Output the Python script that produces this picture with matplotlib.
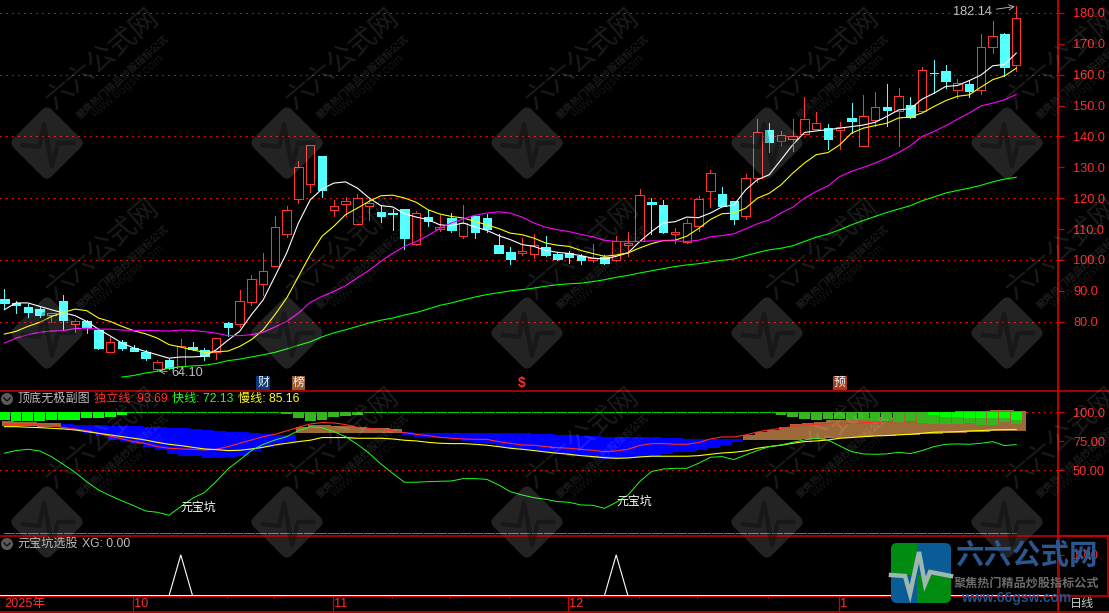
import numpy as np
import matplotlib
matplotlib.use("Agg")
import matplotlib.pyplot as plt
from matplotlib.patches import Rectangle, FancyBboxPatch, Circle
from matplotlib.transforms import Affine2D

plt.rcParams['font.family'] = ['Liberation Sans', 'Noto Sans CJK SC', 'DejaVu Sans']

# ---------------- price pane data ----------------
opens = [87.5,86.0,84.7,84.2,82.1,86.8,79.2,80.2,77.4,70.1,73.5,71.6,70.3,64.7,67.7,65.6,71.8,70.9,70.3,79.7,79.2,86.3,92.2,97.9,108.3,119.8,124.6,133.8,116.3,118.0,111.6,117.6,
         115.7,115.2,116.6,105.1,113.9,110.0,113.7,107.7,114.4,113.7,105.0,102.7,102.2,101.8,104.3,101.9,102.3,101.4,99.9,101.0,100.0,105.0,106.0,118.9,117.9,108.5,105.7,110.9,122.4,121.5,119.2,
         114.1,126.4,142.2,138.4,139.1,140.9,142.5,142.8,142.1,146.0,136.8,145.4,149.6,148.3,150.3,148.2,160.6,161.3,155.2,157.1,155.0,168.9,173.3,163.1]
closes = [86.2,85.3,83.3,82.3,82.8,80.7,80.2,78.4,71.6,73.5,71.6,70.6,68.4,67.0,64.9,72.0,71.3,68.9,74.7,78.4,86.7,93.8,96.4,110.7,116.2,130.1,137.3,122.8,117.5,119.1,120.1,118.3,
          114.4,115.0,107.0,115.2,112.6,110.7,109.6,112.0,109.0,110.0,102.4,100.4,102.9,104.9,101.7,100.4,101.1,99.9,100.8,98.9,106.0,105.5,121.1,118.0,109.2,109.2,112.0,119.8,128.2,117.6,113.4,
          126.5,141.4,138.3,140.4,140.1,145.6,144.3,139.3,143.0,145.1,146.6,149.5,148.6,153.1,146.4,161.5,160.4,158.0,157.3,154.8,168.9,172.5,162.6,178.3]
highs = [90.7,86.6,85.9,85.1,82.9,88.8,81.0,80.7,77.6,75.2,74.0,72.4,70.9,67.5,68.1,74.4,73.5,71.6,74.7,79.9,90.4,95.2,102.4,114.4,117.6,131.9,137.3,133.8,119.5,120.4,121.4,120.1,
         117.6,116.6,116.6,115.9,116.3,114.7,115.2,117.9,114.4,115.0,108.5,104.3,107.2,108.5,107.9,102.7,102.9,101.9,105.3,101.6,107.9,109.2,123.0,120.2,119.5,110.5,113.3,120.8,129.3,123.8,119.2,
         127.9,145.7,144.4,141.8,145.7,152.8,148.0,144.1,144.7,150.9,153.5,154.5,157.1,155.8,152.8,162.6,164.8,163.2,158.7,158.4,173.3,177.5,173.6,182.14]
lows = [84.2,82.9,81.6,81.6,79.8,77.8,76.6,76.5,71.3,70.1,70.9,70.4,67.7,64.1,64.7,65.3,70.9,67.7,68.0,75.5,78.4,85.3,88.8,97.9,107.5,118.4,122.1,120.5,114.4,114.4,111.6,113.1,
        112.4,109.8,103.7,104.9,111.1,109.4,109.0,107.0,107.2,109.0,102.4,98.8,101.6,100.8,101.4,100.1,99.1,98.8,99.5,98.6,99.8,101.4,106.0,108.5,108.9,105.6,105.6,109.3,117.3,117.6,111.8,
        113.4,125.2,135.0,137.1,135.4,140.9,142.5,136.0,136.0,141.2,136.8,143.5,143.5,137.0,146.0,148.2,154.1,155.8,152.5,152.8,153.8,167.1,159.5,161.3]
ma_white = [83.9,86.1,86.1,85.0,83.9,82.9,82.0,80.1,77.6,75.4,73.1,71.5,70.4,69.3,68.2,68.6,68.6,68.8,70.9,74.0,76.9,82.3,87.1,94.7,102.3,112.0,119.5,123.0,124.9,125.3,123.3,120.1,
            117.6,117.2,115.0,113.9,113.1,111.4,111.1,112.0,110.7,109.6,107.9,106.6,105.0,104.4,103.1,102.5,102.1,101.4,100.6,100.3,101.2,102.3,106.0,109.2,112.0,112.4,113.9,113.7,115.2,117.2,117.8,
            122.7,126.0,127.6,132.4,137.3,141.3,141.8,142.2,142.7,143.2,143.7,144.6,146.5,148.6,149.0,152.1,154.0,156.2,156.5,158.1,159.9,162.9,163.3,167.0]
ma_yellow = [76.0,76.9,78.5,79.8,81.7,83.0,84.1,83.6,81.2,80.1,78.5,77.1,76.1,74.7,72.6,71.8,70.9,70.1,70.3,70.5,72.0,74.2,77.4,82.3,87.7,94.7,101.7,107.7,110.9,114.7,116.8,119.0,
             120.8,121.0,120.1,118.7,116.3,114.9,114.1,113.6,112.5,111.4,110.2,108.7,108.2,107.1,105.5,104.8,104.4,103.1,102.1,101.2,101.6,102.3,103.9,105.3,106.3,106.4,107.7,110.2,113.1,115.0,115.2,
             116.8,120.0,121.6,124.3,128.1,131.4,134.1,134.8,137.3,141.1,142.7,143.5,144.3,146.0,146.3,147.6,149.7,151.6,153.0,153.5,156.0,158.4,159.6,162.1]
ma_magenta = [73.1,74.7,75.8,76.6,77.0,77.1,77.8,77.9,77.6,77.6,77.3,77.2,77.2,77.1,77.0,77.3,77.2,76.8,76.3,75.5,75.5,75.8,76.6,78.3,80.1,82.8,86.3,88.2,89.8,91.7,94.2,96.7,
              99.6,102.1,104.4,106.0,107.9,110.2,112.0,113.3,114.5,115.2,115.6,115.2,113.9,112.0,110.6,109.8,109.2,108.3,107.5,106.4,106.0,106.0,106.0,106.2,106.2,106.2,106.0,106.4,107.5,107.9,108.5,
              110.1,111.7,113.0,115.2,117.1,120.0,122.2,124.0,127.0,128.7,130.0,131.4,133.0,134.8,137.0,140.0,141.6,143.5,145.6,147.6,149.9,150.8,151.9,153.6]
ma_green_start = 10
ma_green = [62.1,62.6,63.4,64.0,65.0,65.4,65.7,65.9,66.5,67.4,67.9,68.6,69.3,70.1,71.2,72.4,73.5,75.1,76.4,77.4,78.5,79.6,
            80.5,81.2,82.2,83.0,84.1,85.3,86.1,87.1,88.0,88.8,89.4,90.0,90.4,90.9,91.5,92.0,92.3,92.5,93.0,93.6,94.4,95.0,95.8,96.5,97.2,97.9,98.4,98.8,99.4,99.9,100.3,
            101.4,102.4,103.3,103.8,104.6,106.0,107.4,108.4,109.8,111.4,112.8,114.1,115.4,116.5,117.6,119.2,120.4,121.7,122.5,123.3,124.2,125.3,126.2,126.8]
price_ticks = [180,170,160,150,140,130,120,110,100,90,80]
price_grid = [180,160,140,120,100,80]

# ---------------- indicator pane data ----------------
band_top = [92.5,92.0,91.4,91.1,90.5,89.7,89.1,89.1,89.1,88.5,88.2,87.9,87.6,87.1,86.8,86.5,85.6,85.1,84.2,83.3,82.8,81.9,81.0,80.5,80.5,87.6,89.1,89.1,88.5,88.5,87.6,86.8,
            86.8,85.9,82.8,82.5,82.5,82.5,82.5,82.5,82.5,82.5,82.5,82.5,81.9,81.3,81.3,80.5,80.5,79.9,79.9,79.0,79.0,79.0,79.0,78.4,78.2,77.6,77.0,76.7,76.7,76.7,76.7,
            80.5,83.3,84.8,87.6,89.7,91.1,92.0,93.1,93.4,94.8,94.8,95.7,96.3,99.1,99.1,100.0,100.6,100.6,100.9,101.1,101.4,101.7,101.7,101.1]
band_bottom = [88.5,88.5,87.9,87.6,87.1,85.6,83.9,81.9,79.9,76.1,74.1,72.4,70.4,67.5,63.8,62.6,62.6,60.3,60.3,61.5,62.1,66.7,70.4,72.4,74.1,81.9,82.5,82.5,82.5,82.5,82.5,82.5,
               82.5,82.5,80.5,79.0,78.2,77.6,76.7,75.3,73.3,72.4,70.4,68.9,68.4,66.9,66.1,64.6,62.6,62.1,60.9,59.8,60.3,60.9,61.8,62.6,63.8,65.5,66.1,67.5,68.9,71.8,74.1,
               76.1,76.1,76.1,76.1,76.1,76.7,77.3,77.6,78.2,78.7,79.0,79.6,79.6,80.2,80.7,81.3,81.6,82.2,82.5,82.8,83.3,83.6,83.9,84.2]
brown_spans = [(0, 4), (25, 33), (63, 86)]
line_red = [89.1,89.4,89.4,89.1,88.5,86.8,85.6,84.2,81.9,79.6,77.0,74.7,73.0,70.4,69.0,68.4,68.1,67.5,68.1,70.4,73.3,76.1,79.0,81.0,83.9,87.1,89.9,91.1,90.8,89.4,87.1,86.2,
            85.3,83.9,82.5,81.0,79.9,78.4,77.6,77.0,76.7,76.7,74.7,73.3,71.8,71.6,70.4,69.5,69.0,68.1,67.2,66.1,66.7,68.1,71.3,73.0,73.0,72.4,72.4,73.9,77.0,78.7,78.7,
            80.5,83.0,84.8,86.2,87.6,89.1,89.7,90.2,89.9,90.5,90.8,91.4,92.0,92.8,92.5,92.5,92.5,92.8,92.8,93.1,93.4,93.4,93.7,93.69]
line_yellow = [87.6,87.6,87.1,86.8,86.2,85.6,84.8,83.3,81.9,80.5,79.0,77.6,76.1,74.1,72.4,71.3,69.8,68.4,67.8,67.0,67.2,68.4,69.8,71.8,73.3,74.7,75.9,78.2,78.2,78.2,77.6,77.6,
               77.6,77.0,75.9,75.3,74.1,73.3,73.0,73.0,72.4,71.6,70.4,69.0,68.1,67.0,65.8,64.7,63.8,62.6,61.8,60.9,60.3,60.6,61.5,62.1,62.1,62.1,62.1,62.6,63.8,64.9,65.5,
               66.7,69.0,70.4,71.6,73.3,74.7,75.3,76.1,77.6,78.2,79.0,79.6,79.9,80.5,81.0,81.9,82.8,83.0,83.3,83.9,84.2,84.8,85.06,85.16]
line_green = [64.7,67.0,68.1,66.7,61.8,55.2,48.3,40.2,33.0,28.1,23.6,19.5,14.9,13.8,11.2,18.7,25.9,30.8,40.2,51.1,58.9,67.0,72.4,76.1,79.0,84.2,87.4,86.8,83.3,79.0,72.4,64.7,
              55.5,47.4,39.7,39.7,40.2,40.5,40.8,42.8,42.8,42.2,37.4,31.6,28.7,26.4,25.0,23.0,22.4,20.1,19.8,17.2,22.4,28.7,40.2,48.9,51.1,51.7,51.7,56.0,61.2,61.8,59.2,
              63.2,67.0,70.4,71.8,74.1,76.1,77.6,76.1,71.0,66.1,64.1,63.8,64.1,65.5,64.4,67.0,70.4,72.4,72.7,72.4,73.3,74.7,71.3,72.13]
bright_a_start = 0
bright_a = [93.4,92.5,92.5,92.5,93.4,93.4,93.4,94.8,95.4,96.0,97.7]
dark_a_start = 24
dark_a = [98.6,94.8,92.5,93.4,96.0,96.8,97.7,99.1]
dark_b_start = 66
dark_b = [97.7,96.0,94.3,93.4,94.3,94.3,93.7,93.4,92.5,92.5,91.4,92.5,90.8,89.7,89.7,89.7,91.1,89.1,89.1,91.4,89.7]
bright_b_start = 79
bright_b = [97.7,96.3,96.3,94.8,94.8,94.8,94.8,93.4]
sub_ticks = [100, 75, 50]
sub_tick_labels = ['100.0', '75.00', '50.00']
sub_base = -4.3
pit_labels = [(15, 17.5), (52, 22.9)]

# ---------------- signal pane / dates ----------------
xg_idx = [15, 52]
month_idx = [11, 28, 48, 71]
month_labels = ['10', '11', '12', '1']
minor_idx = [15, 19, 23, 33, 38, 43, 54, 59, 65]
tag_idx = [22, 25, 44, 71]
tag_text = ['财', '榜', '$', '预']
tag_bg = ['#0c3a78', '#9a5a30', None, '#a83a20']

W, H = 1109, 613
BG = '#000000'
RED_AX = '#d00000'
GRID = '#e00000'
LABEL = '#ff2e2e'
RED = '#ff3232'
CYAN = '#54ffff'
n = len(opens)
x = np.arange(n)
PX0, PX_STEP = 4.3, 11.767
AXIS_R = 1058
xlim = ((0 - PX0) / PX_STEP, (AXIS_R - PX0) / PX_STEP)
DOT = (0, (1.1, 4.4))
LW = 0.6
CURVE = 0.8

fig = plt.figure(figsize=(W / 100, H / 100), dpi=100, facecolor=BG)


def pane(y0, y1, x0=0, x1=AXIS_R, z=1):
    return fig.add_axes([x0 / W, 1 - y1 / H, (x1 - x0) / W, (y1 - y0) / H], facecolor=BG, zorder=z)


def style(ax):
    ax.set_xlim(*xlim)
    ax.set_xticks([])
    for s in ['left', 'top', 'bottom']:
        ax.spines[s].set_visible(False)
    ax.spines['right'].set_color(RED_AX)
    ax.spines['right'].set_linewidth(1.3)
    ax.yaxis.tick_right()
    ax.tick_params(axis='y', colors=LABEL, color=RED_AX, length=4.3, width=0.9, pad=6.5, labelsize=9.2)


def grid(ax, level):
    ax.axhline(level, color=GRID, ls=DOT, lw=0.7, zorder=1, antialiased=False)


# ---- price pane ----
ax = pane(0, 390)
style(ax)
ax.set_ylim(57.9, 184.2)
ax.set_yticks(price_ticks)
ax.set_yticklabels([f'{v:.1f}' for v in price_ticks])
for lv in price_grid:
    grid(ax, lv)
for i in range(n):
    o, c, h, l = opens[i], closes[i], highs[i], lows[i]
    top, bot = max(o, c), min(o, c)
    up = c >= o
    col = RED if up else CYAN
    ax.plot([i, i], [top, h], color=col, lw=LW, zorder=2, solid_capstyle='butt', antialiased=False)
    ax.plot([i, i], [l, bot], color=col, lw=LW, zorder=2, solid_capstyle='butt', antialiased=False)
    ax.add_patch(Rectangle((i - 0.36, bot), 0.72, max(top - bot, 0.3),
                           facecolor=BG if up else CYAN, edgecolor=col, lw=LW, zorder=2, antialiased=False))
ax.plot(x, ma_white, color='#ffffff', lw=CURVE, zorder=3)
ax.plot(x, ma_yellow, color='#ffff00', lw=CURVE, zorder=3)
ax.plot(x, ma_magenta, color='#ff00ff', lw=CURVE, zorder=3)
ax.plot(x[ma_green_start:], ma_green, color='#00ff00', lw=CURVE, zorder=3)
ax.annotate(f'{max(highs):.2f}', xy=(int(np.argmax(highs)), max(highs)), xycoords='data',
            xytext=(-24, -6), textcoords='offset pixels', ha='right', va='center',
            color='#c0c0c0', fontsize=9.2,
            arrowprops=dict(arrowstyle='->', color='#c0c0c0', lw=0.6, shrinkA=1, shrinkB=1), zorder=6)
ax.annotate(f'{min(lows):.2f}', xy=(int(np.argmin(lows)), min(lows)), xycoords='data',
            xytext=(14, -2), textcoords='offset pixels', ha='left', va='center',
            color='#c0c0c0', fontsize=9.2,
            arrowprops=dict(arrowstyle='->', color='#c0c0c0', lw=0.6, shrinkA=1, shrinkB=1), zorder=6)
for i, t, bg in zip(tag_idx, tag_text, tag_bg):
    if bg:
        ax.text(i, 60.3, t, color='#f0f0f0', fontsize=8.6, ha='center', va='center', zorder=6,
                bbox=dict(boxstyle='square,pad=0.08', fc=bg, ec='none'))
    else:
        ax.text(i, 60.3, t, color='#ff2e2e', fontsize=10, fontweight='bold', ha='center', va='center', zorder=6)

# ---- indicator pane ----
ax2 = pane(390, 535)
style(ax2)
ax2.set_ylim(-5.8, 119.2)
ax2.set_yticks(sub_ticks)
ax2.set_yticklabels(sub_tick_labels)
grid(ax2, 50)
grid(ax2, 100)
ax2.plot(x, [100] * n, color='#00d000', lw=LW, ls=(0, (13, 1.5)), zorder=2, antialiased=False)
ax2.plot(x, [sub_base] * n, color='#00c000', lw=LW, ls=(0, (13, 1.5)), zorder=2, antialiased=False)
band_top_a = np.array(band_top)
band_bot_a = np.array(band_bottom)
colors = ['#0000ff'] * n
for a, b in brown_spans:
    for i in range(a, b + 1):
        colors[i] = '#9c6a38'
ax2.bar(x + 0.3, band_top_a - band_bot_a, bottom=band_bot_a, width=1.0, color=colors, lw=0, zorder=3)
ax2.plot(x, line_red, color='#ff2a2a', lw=CURVE, zorder=4)
ax2.bar(x[bright_a_start:bright_a_start + len(bright_a)], 100 - np.array(bright_a), bottom=bright_a,
        width=0.92, color='#00ff00', lw=0, zorder=5)
ax2.bar(x[dark_a_start:dark_a_start + len(dark_a)], 100 - np.array(dark_a), bottom=dark_a,
        width=0.92, color='#35b51e', lw=0, zorder=5)
ax2.bar(x[dark_b_start:dark_b_start + len(dark_b)], 100 - np.array(dark_b), bottom=dark_b,
        width=0.92, color='#35b51e', lw=0, zorder=5)
ax2.bar(x[bright_b_start:bright_b_start + len(bright_b)], 100 - np.array(bright_b), bottom=bright_b,
        width=0.92, color='#00ff00', lw=0, zorder=6)
ax2.plot(x, line_yellow, color='#ffff00', lw=CURVE, zorder=7)
ax2.plot(x, line_green, color='#20ff20', lw=0.7, zorder=7)
for i, v in pit_labels:
    ax2.text(i, v, '元宝坑', color='#ffffff', fontsize=8.6, ha='left', va='center', zorder=8)

# ---- signal pane ----
ax3 = pane(535, 596)
style(ax3)
ax3.set_ylim(-0.007, 1.49)
ax3.set_yticks([1])
ax3.set_yticklabels(['1.00'])
xg = np.zeros(n)
xg[xg_idx] = 1
ax3.axhline(0, color='#ffffff', lw=0.75, zorder=2, antialiased=False)
ax3.plot(x, xg, color='#ffffff', lw=CURVE, zorder=3)

# ---- date strip ----
ax4 = pane(596, 612)
ax4.set_xlim(*xlim)
ax4.set_ylim(0, 1)
ax4.set_yticks([])
ax4.set_xticks([])
for s in ['left', 'bottom']:
    ax4.spines[s].set_visible(False)
ax4.spines['top'].set_color(RED_AX)
ax4.spines['right'].set_color(RED_AX)
for i, t in zip(month_idx, month_labels):
    ax4.axvline(i - 0.09, color=RED_AX, lw=0.9)
    ax4.text(i + 0.03, 0.47, t, color=LABEL, fontsize=9.2, ha='left', va='center')
ax4.vlines(np.array(minor_idx) - 0.09, 0.85, 1, color=RED_AX, lw=0.8)
ax4.text(xlim[0] + 0.4, 0.47, '2025年', color=LABEL, fontsize=9.2, ha='left', va='center')

# ---- overlay (pixel coordinates): frame lines, titles, watermarks, logo ----
ov = fig.add_axes([0, 0, 1, 1], facecolor='none', zorder=10)
ov.set_xlim(0, W)
ov.set_ylim(H, 0)
ov.axis('off')
ov.hlines([390.5, 535.5], 0, W, color=RED_AX, lw=1.1)
ov.hlines([612], 0, W, color=RED_AX, lw=1.2)
ov.vlines([AXIS_R], 596, 613, color=RED_AX, lw=1.2)
ov.add_patch(Rectangle((1059, 535.7), 48.5, 60, fill=False, ec='#a00000', lw=1.6))

for (cx, cy) in [(7, 399), (7, 544)]:
    ov.add_patch(Circle((cx, cy), 6, fc='#5a5a5a', ec='none'))
    ov.plot([cx - 3, cx, cx + 3], [cy - 1, cy + 2, cy - 1], color='#101010', lw=1.0)
tc = {'fontsize': 8.7, 'va': 'center', 'ha': 'left'}
ov.text(17, 399, '顶底无极副图', color='#bcbcbc', **tc)
ov.text(94, 399, f'独立线: {line_red[-1]:.2f}', color='#ff2e2e', **tc)
ov.text(172, 399, f'快线: {line_green[-1]:.2f}', color='#20ff20', **tc)
ov.text(238, 399, f'慢线: {line_yellow[-1]:.2f}', color='#ffff20', **tc)
ov.text(17, 544, '元宝坑选股', color='#bcbcbc', **tc)
ov.text(82, 544, f'XG: {xg[-1]:.2f}', color='#bcbcbc', **tc)

# tiled watermark
wm_cols = [47, 287, 527, 767, 1007]
wm_rows = [143, 333, 522]
for cx in wm_cols:
    for cy in wm_rows:
        tr = Affine2D().rotate_deg_around(cx, cy, 45) + ov.transData
        ov.add_patch(FancyBboxPatch((cx - 21, cy - 21), 42, 42, boxstyle='round,pad=6,rounding_size=7',
                                    fc=(1, 1, 1, 0.14), ec='none', transform=tr))
        ov.plot(np.array([-24, -8, -3, 5, 11, 26]) + cx,
                np.array([2, 4, -19, 23, 0, 0]) + cy,
                color=(0, 0, 0, 0.3), lw=3.2)
        ov.text(cx + 56, cy - 84, '六六公式网', color=(1, 1, 1, 0.11), fontsize=20, rotation=40,
                rotation_mode='anchor', ha='center', va='center')
        ov.text(cx + 76, cy - 66, '聚焦热门精品炒股指标公式', color=(1, 1, 1, 0.11), fontsize=7.2, fontweight='bold', rotation=42,
                rotation_mode='anchor', ha='center', va='center')
        ov.text(cx + 80, cy - 56, 'www.66gsw.com', color=(1, 1, 1, 0.08), fontsize=9, rotation=40,
                rotation_mode='anchor', ha='center', va='center')

ov.text(1082, 604, '日线', color='#c8c8c8', fontsize=8.7, ha='center', va='center')

# logo
LX0, LX1, LY0, LY1 = 891, 951, 543, 603
clip = FancyBboxPatch((LX0 + 4, LY0 + 4), LX1 - LX0 - 8, LY1 - LY0 - 8, boxstyle='round,pad=4,rounding_size=6',
                      fc='none', ec='none', transform=ov.transData)
ov.add_patch(clip)
lx_mid, ly_mid = 917, 575
for (a, b, c, d, col) in [(LX0, lx_mid, LY0, ly_mid, '#008c10'), (lx_mid, LX1, LY0, ly_mid, '#0a5c96'),
                          (LX0, lx_mid, ly_mid, LY1, '#0a5c96'), (lx_mid, LX1, ly_mid, LY1, '#008c10')]:
    r = Rectangle((a, c), b - a, d - c, fc=col, ec='none')
    ov.add_patch(r)
    r.set_clip_path(clip)
ov.plot([891, 905, 910, 919, 925, 930, 951], [575, 576, 594, 552, 584, 572, 576], color='#9db8b0', lw=3.2,
        solid_joinstyle='miter')
ov.text(1026.5, 556, '六六公式网', color='#2c568e', fontsize=20.5, fontweight='bold', ha='center', va='center')
ov.text(1026.5, 584, '聚焦热门精品炒股指标公式', color='#6c6c6c', fontsize=8.7, fontweight='bold', ha='center', va='center')
ov.text(1016, 598, 'www.66gsw.com', color='#24508c', fontsize=10, fontweight='bold', ha='center', va='center')

fig.savefig('out.png', dpi=100, facecolor=BG)
